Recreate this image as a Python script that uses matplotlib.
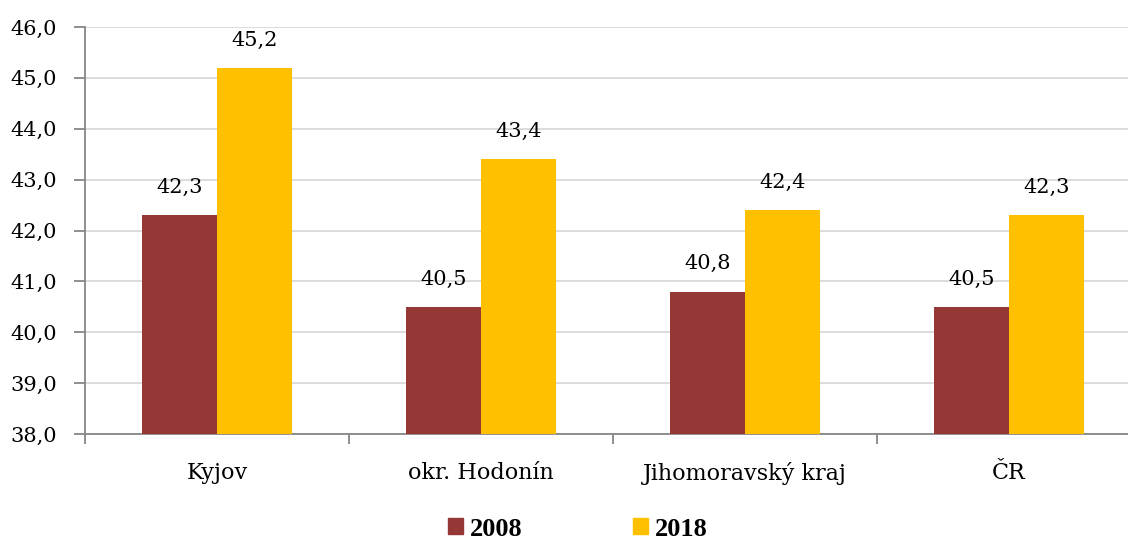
import matplotlib
matplotlib.use("Agg")
import matplotlib.pyplot as plt
from matplotlib.patches import Patch
import numpy as np

categories = ["Kyjov", "okr. Hodonín", "Jihomoravský kraj", "ČR"]
series_names = ["2008", "2018"]
values_2008 = [42.3, 40.5, 40.8, 40.5]
values_2018 = [45.2, 43.4, 42.4, 42.3]
yticks = [38, 39, 40, 41, 42, 43, 44, 45, 46]

colors = ["#953735", "#FFC000"]
plt.rcParams['font.family'] = ['DejaVu Serif']

fig = plt.figure(figsize=(11.28, 5.41), dpi=100)
W, H = 1128, 541
ax = fig.add_axes([85 / W, (H - 434) / H, 1056 / W, 407 / H])

x = np.arange(len(categories))
bw = 0.284
b1 = ax.bar(x - bw / 2, values_2008, bw, color=colors[0], zorder=3)
b2 = ax.bar(x + bw / 2, values_2018, bw, color=colors[1], zorder=3)

for bars, vals in ((b1, values_2008), (b2, values_2018)):
    for r, v in zip(bars, vals):
        ax.annotate(f"{v:.1f}".replace(".", ","), (r.get_x() + r.get_width() / 2, v),
                    xytext=(0, 20), textcoords="offset points", ha="center", va="center",
                    fontsize=15)

ax.set_ylim(38, 46)
ax.set_xlim(-0.5, len(categories) - 0.5)
ax.set_yticks(yticks)
ax.set_yticklabels([f"{t:.1f}".replace(".", ",") for t in yticks], fontsize=15)
ax.yaxis.grid(True, color="#D9D9D9", linewidth=1.3, zorder=0)
ax.set_axisbelow(True)

ax.set_xticks(np.arange(len(categories) + 1) - 0.5)
ax.set_xticklabels([])
ax.set_xticks(x, minor=True)
ax.set_xticklabels(categories, minor=True, fontsize=16)
ax.tick_params(axis="x", which="minor", length=0, pad=20)
ax.tick_params(axis="x", which="major", length=7, color="#868686", width=1.3, direction="out")
ax.tick_params(axis="y", length=8, color="#868686", width=1.3, pad=12)

for s in ("top", "right"):
    ax.spines[s].set_visible(False)
for s in ("left", "bottom"):
    ax.spines[s].set_color("#868686")
    ax.spines[s].set_linewidth(1.3)

handles = [Patch(color=c) for c in colors]
leg = fig.legend(handles, series_names, loc="center", bbox_to_anchor=(578 / W, 1 - 529 / H),
                 ncol=2, frameon=False, handlelength=0.57, handleheight=0.57, handletextpad=0.27,
                 columnspacing=4.17,
                 prop={"family": "Liberation Serif", "size": 19, "weight": "bold"})

fig.savefig("out.png", dpi=100)
